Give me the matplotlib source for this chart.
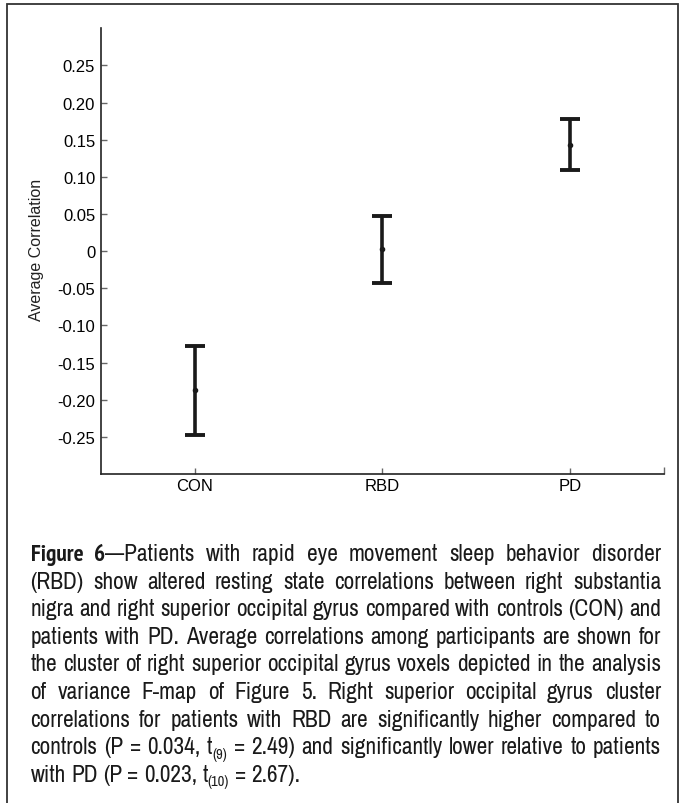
import re
import matplotlib
matplotlib.use("Agg")
import matplotlib.pyplot as plt
from matplotlib import font_manager
from matplotlib.font_manager import FontProperties
from matplotlib.patches import Rectangle

# data
groups = ["CON", "RBD", "PD"]
means = [-0.187, 0.003, 0.143]
upper = [-0.128, 0.047, 0.178]
lower = [-0.247, -0.043, 0.109]
yticks = [-0.25, -0.20, -0.15, -0.10, -0.05, 0, 0.05, 0.10, 0.15, 0.20, 0.25]
ylabels = ["-0.25", "-0.20", "-0.15", "-0.10", "-0.05", "0", "0.05", "0.10", "0.15", "0.20", "0.25"]

caption = [
    "**Figure** **6**\u2014Patients with rapid eye movement sleep behavior disorder",
    "(RBD) show altered resting state correlations between right substantia",
    "nigra and right superior occipital gyrus compared with controls (CON) and",
    "patients with PD. Average correlations among participants are shown for",
    "the cluster of right superior occipital gyrus voxels depicted in the analysis",
    "of variance F-map of Figure 5. Right superior occipital gyrus cluster",
    "correlations for patients with RBD are significantly higher compared to",
    "controls (P = 0.034, t_{(9)} = 2.49) and significantly lower relative to patients",
    "with PD (P = 0.023, t_{(10)} = 2.67).",
]


def have_font(name):
    try:
        font_manager.findfont(name, fallback_to_default=False)
        return True
    except Exception:
        return False


main_font = "Liberation Sans" if have_font("Liberation Sans") else "DejaVu Sans"

# a narrow face for the caption if one is installed
narrow = {}
for f in font_manager.fontManager.ttflist:
    if "narrow" in f.name.lower() or "narrow" in f.fname.lower():
        key = "bold" if ("bold" in f.fname.lower() or f.weight in (700, "bold")) else "normal"
        if "italic" in f.fname.lower():
            continue
        narrow.setdefault(key, f.fname)


def cap_prop(weight, size):
    if weight in narrow:
        return FontProperties(fname=narrow[weight], size=size)
    if "normal" in narrow and weight == "normal":
        return FontProperties(fname=narrow["normal"], size=size)
    return FontProperties(family=main_font, weight=weight, size=size)


W, H = 683, 804
fig = plt.figure(figsize=(W / 100, H / 100), dpi=100)

# outer frame of the figure panel
fig.add_artist(Rectangle((7 / W, -0.01), 671 / W, 1 - 5 / H + 0.01, transform=fig.transFigure,
                         fill=False, edgecolor="#333333", linewidth=1.3))

ax = fig.add_axes([100.7 / W, 329 / H, 563.6 / W, 445.7 / H])
x = [1, 2, 3]
yerr = [[m - l for m, l in zip(means, lower)], [u - m for m, u in zip(means, upper)]]
ax.errorbar(x, means, yerr=yerr, fmt="o", color="#1a1a1a", ecolor="#1a1a1a",
            markersize=3, elinewidth=2.6, capsize=7.2, capthick=2.8)

ax.set_xlim(0.5, 3.5)
ax.set_ylim(-0.3, 0.3)
ax.set_xticks(x)
ax.set_xticklabels(groups, fontsize=12, family=main_font)
ax.set_xticks([3.5], minor=True)
ax.set_yticks(yticks)
ax.set_yticklabels(ylabels, fontsize=12, family=main_font)
ax.tick_params(direction="in", length=4, width=1, color="#666666", pad=4)
ax.tick_params(axis="x", which="minor", direction="in", length=5, width=1, color="#666666")
ax.tick_params(axis="x", pad=3)
for s in ["top", "right"]:
    ax.spines[s].set_visible(False)
for s in ["left", "bottom"]:
    ax.spines[s].set_linewidth(1.2)
    ax.spines[s].set_color("#222222")
fig.text(37 / W, 1 - 250 / H, "Average Correlation", rotation=90, ha="center", va="center",
         fontsize=11.5, family=main_font, color="#222222")

# justified caption, word by word
renderer = fig.canvas.get_renderer()
left_px, right_px = 30.5, 661
line_w = right_px - left_px


def parse_word(word):
    runs = []
    for part in re.split(r"(\*\*.+?\*\*|_\{.+?\})", word):
        if not part:
            continue
        if part.startswith("**"):
            runs.append((part[2:-2], "b"))
        elif part.startswith("_{"):
            runs.append((part[2:-1], "s"))
        else:
            runs.append((part, "n"))
    return runs


def run_fp(style, fs):
    if style == "b":
        return cap_prop("bold", fs)
    if style == "s":
        return cap_prop("normal", fs * 0.62)
    return cap_prop("normal", fs)


def measure(s, style, fs):
    t = fig.text(0, 0, s, fontproperties=run_fp(style, fs))
    w = t.get_window_extent(renderer).width
    t.remove()
    return w


def space_w(fs):
    return measure("a a", "n", fs) - measure("aa", "n", fs)


def word_w(word, fs):
    return sum(measure(s, st, fs) for s, st in parse_word(word))


# fit caption size so the densest line fills the column
fs = 14.0
words5 = caption[4].split(" ")
nat = sum(word_w(w, fs) for w in words5) + space_w(fs) * (len(words5) - 1)
fs = min(fs * (line_w * 0.99) / nat, 18)

base0 = 561
step = 27.6
for i, line in enumerate(caption):
    words = line.split(" ")
    widths = [word_w(w, fs) for w in words]
    if i < len(caption) - 1 and len(words) > 1:
        gap = (line_w - sum(widths)) / (len(words) - 1)
    else:
        gap = space_w(fs)
    xp = left_px
    yb = base0 + i * step
    for w, ww in zip(words, widths):
        xr = xp
        for s, st in parse_word(w):
            dy = 4.5 if st == "s" else 0
            fig.text(xr / W, 1 - (yb + dy) / H, s, fontproperties=run_fp(st, fs),
                     va="baseline", ha="left", color="#1a1a1a")
            xr += measure(s, st, fs)
        xp += ww + gap

fig.savefig("out.png", dpi=100)
